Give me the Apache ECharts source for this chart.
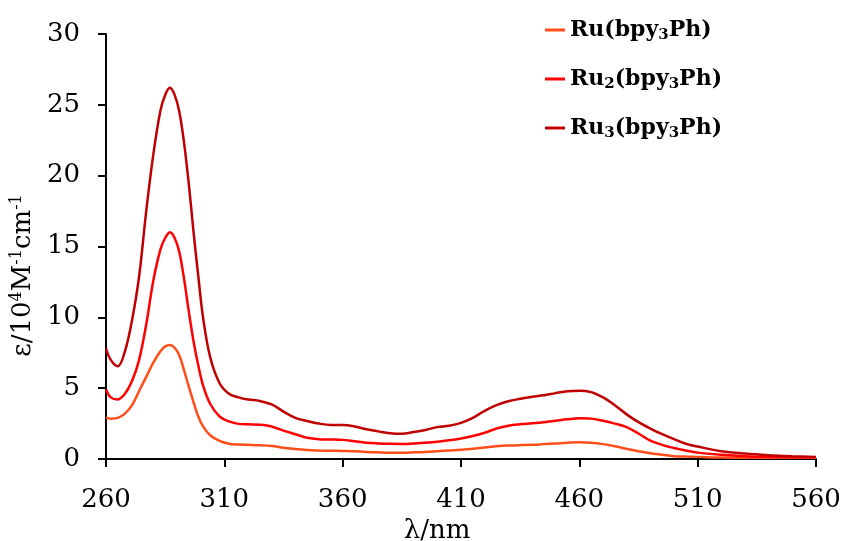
<!DOCTYPE html>
<html>
<head>
<meta charset="utf-8">
<script src="https://cdn.jsdelivr.net/npm/echarts@6/dist/echarts.min.js"></script>
<style>html,body{margin:0;padding:0;background:#fff}#c{width:842px;height:541px}</style>
</head>
<body>
<div id="c"></div>
<script>
var wavelengths = [260,262,265,268,271,274,277,280,283,285,287,289,291,293,295,297,299,301,304,308,312,316,320,325,330,335,340,345,350,355,360,365,370,375,380,385,390,395,400,405,410,415,420,425,430,435,440,445,450,455,460,465,470,475,480,485,490,495,500,505,510,520,530,540,550,560];
var ru1 = [2.92,2.85,2.9,3.2,3.8,4.8,5.8,6.8,7.6,7.95,8.05,7.85,7.3,6.25,5.1,4.0,3.0,2.3,1.68,1.28,1.08,1.02,1.0,0.97,0.92,0.8,0.7,0.63,0.6,0.58,0.57,0.55,0.5,0.47,0.45,0.45,0.47,0.5,0.55,0.6,0.65,0.72,0.82,0.9,0.95,0.98,1.0,1.05,1.1,1.15,1.18,1.15,1.05,0.9,0.72,0.55,0.4,0.3,0.2,0.17,0.15,0.1,0.09,0.08,0.08,0.08];
var ru2 = [4.9,4.35,4.2,4.6,5.5,7.0,9.5,12.6,14.8,15.6,16.0,15.6,14.6,12.7,10.4,8.3,6.6,5.2,3.9,3.0,2.65,2.48,2.45,2.42,2.3,2.0,1.75,1.5,1.4,1.38,1.35,1.25,1.15,1.1,1.07,1.06,1.1,1.15,1.22,1.32,1.45,1.62,1.85,2.15,2.35,2.45,2.52,2.6,2.7,2.8,2.87,2.85,2.7,2.5,2.25,1.8,1.3,1.0,0.78,0.6,0.45,0.3,0.2,0.15,0.13,0.12];
var ru3 = [7.8,7.0,6.55,7.6,9.8,12.9,17.5,21.5,24.6,25.7,26.2,25.7,24.5,22.3,19.4,16.0,12.9,10.0,7.2,5.35,4.6,4.35,4.2,4.1,3.85,3.35,2.9,2.68,2.5,2.4,2.4,2.3,2.1,1.95,1.82,1.78,1.9,2.05,2.25,2.35,2.55,2.9,3.4,3.8,4.08,4.25,4.4,4.5,4.65,4.78,4.82,4.72,4.35,3.8,3.15,2.6,2.15,1.75,1.4,1.08,0.88,0.55,0.38,0.27,0.2,0.15];
var seriesNames = ['Ru(bpy3Ph)','Ru2(bpy3Ph)','Ru3(bpy3Ph)'];
var seriesColors = ['#FF4E1A','#FF0000','#C00000'];
var xTicks = [260,310,360,410,460,510,560];
var yTicks = [0,5,10,15,20,25,30];

function zip(v){ return wavelengths.map(function(w,i){ return [w, v[i]]; }); }
var values = [ru1, ru2, ru3];

var legendLabels = {
  'Ru(bpy3Ph)': '{m|Ru(bpy}{s|3}{m|Ph)}',
  'Ru2(bpy3Ph)': '{m|Ru}{s|2}{m|(bpy}{s|3}{m|Ph)}',
  'Ru3(bpy3Ph)': '{m|Ru}{s|3}{m|(bpy}{s|3}{m|Ph)}'
};

var serif = 'DejaVu Serif';
var chart = echarts.init(document.getElementById('c'), null, {renderer:'canvas'});
chart.setOption({
  animation: false,
  backgroundColor: '#fff',
  grid: {left: 106, right: 26, top: 34, bottom: 82, containLabel: false, outerBoundsMode: 'none'},
  legend: {
    orient: 'vertical',
    left: 540, top: 14,
    icon: 'rect', itemWidth: 20, itemHeight: 3,
    itemGap: 25,
    data: seriesNames,
    formatter: function(n){ return legendLabels[n]; },
    textStyle: {
      rich: {
        m: {fontFamily: serif, fontWeight: 'bold', fontSize: 22, color: '#000', lineHeight: 26},
        s: {fontFamily: serif, fontWeight: 'bold', fontSize: 15, color: '#000', lineHeight: 14, verticalAlign: 'bottom'}
      }
    }
  },
  xAxis: {
    type: 'value', min: xTicks[0], max: xTicks[xTicks.length-1], interval: 50,
    name: '{m|λ/nm}', nameLocation: 'middle', nameGap: 51,
    nameTextStyle: {padding: [0, 48, 0, 0], rich: {m: {fontFamily: serif, fontSize: 26, color: '#000'}}},
    axisLine: {lineStyle: {color: '#000', width: 2}},
    axisTick: {show: true, inside: false, length: 8, lineStyle: {color: '#000', width: 2}},
    axisLabel: {fontFamily: serif, fontSize: 26, color: '#000', margin: 28},
    splitLine: {show: false}
  },
  yAxis: {
    type: 'value', min: yTicks[0], max: yTicks[yTicks.length-1], interval: 5,
    name: '{m|ε/10}{p|4}{m|M}{p|-1}{m|cm}{p|-1}', nameLocation: 'middle', nameGap: 57, nameRotate: 90,
    nameTextStyle: {padding: [0, 58, 0, 0], rich: {
      m: {fontFamily: serif, fontSize: 26, color: '#000', lineHeight: 28},
      p: {fontFamily: serif, fontSize: 16, color: '#000', lineHeight: 16, verticalAlign: 'top'}
    }},
    axisLine: {show: true, lineStyle: {color: '#000', width: 2}},
    axisTick: {show: true, inside: false, length: 8, lineStyle: {color: '#000', width: 2}},
    axisLabel: {fontFamily: serif, fontSize: 26, color: '#000', margin: 26},
    splitLine: {show: false}
  },
  series: seriesNames.map(function(n, i){
    return {
      name: n, type: 'line', data: zip(values[i]), smooth: 0.35, showSymbol: false, symbol: 'none',
      color: seriesColors[i],
      lineStyle: {color: seriesColors[i], width: 2.5}
    };
  })
});
</script>
</body>
</html>
